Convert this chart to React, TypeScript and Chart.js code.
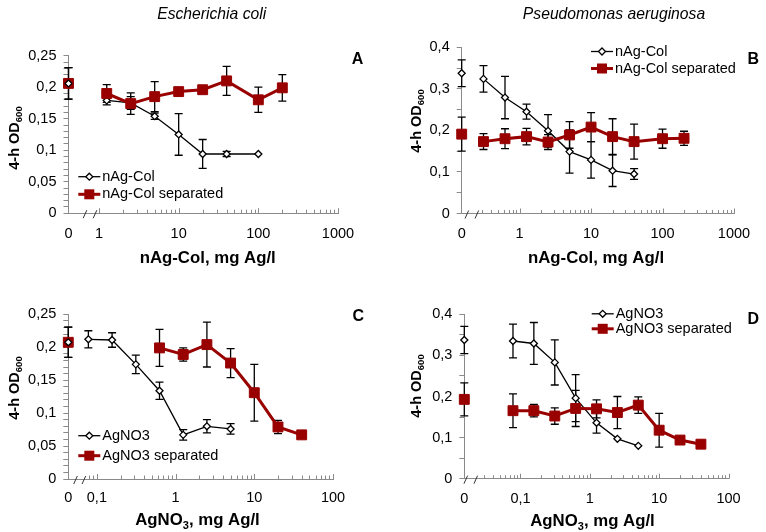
import React, { useEffect, useRef } from 'react';
import { Chart, registerables } from 'chart.js';

Chart.register(...registerables);

const FONT = "'Liberation Sans', Arial, Helvetica, sans-serif";
const RED = '#990000';
const AXIS_COLOR = '#8a8a8a';

// ---------- Panel A: Escherichia coli, nAg-Col ----------
const concA_col = [0, 1.25, 2.5, 5, 10, 20, 40, 100];
const odA_col = [0.206, 0.179, 0.175, 0.154, 0.125, 0.094, 0.094, 0.094];
const errA_col = [0.025, 0.007, 0.01, 0.005, 0.033, 0.023, 0.004, 0];
const concA_sep = [0, 1.25, 2.5, 5, 10, 20, 40, 100, 200];
const odA_sep = [0.206, 0.19, 0.174, 0.185, 0.193, 0.196, 0.21, 0.18, 0.199];
const errA_sep = [0.025, 0.014, 0.017, 0.024, 0.004, 0.004, 0.023, 0.02, 0.021];

// ---------- Panel B: Pseudomonas aeruginosa, nAg-Col ----------
const concB_col = [0, 0.3125, 0.625, 1.25, 2.5, 5, 10, 20, 40];
const odB_col = [0.3375, 0.324, 0.279, 0.245, 0.199, 0.149, 0.129, 0.103, 0.095];
const errB_col = [0.032, 0.032, 0.051, 0.018, 0.039, 0.052, 0.044, 0.038, 0.013];
const concB_sep = [0, 0.3125, 0.625, 1.25, 2.5, 5, 10, 20, 40, 100, 200];
const odB_sep = [0.191, 0.173, 0.18, 0.185, 0.172, 0.189, 0.208, 0.185, 0.173, 0.18, 0.181];
const errB_sep = [0.041, 0.019, 0.024, 0.02, 0.018, 0.032, 0.035, 0.043, 0.042, 0.023, 0.017];

// ---------- Panel C: Escherichia coli, AgNO3 ----------
const concC_no3 = [0, 0.078, 0.156, 0.3125, 0.625, 1.25, 2.5, 5];
const odC_no3 = [0.2075, 0.212, 0.211, 0.174, 0.134, 0.067, 0.08, 0.076];
const errC_no3 = [0.023, 0.013, 0.011, 0.014, 0.013, 0.008, 0.01, 0.008];
const concC_sep = [0, 0.625, 1.25, 2.5, 5, 10, 20, 40];
const odC_sep = [0.2075, 0.199, 0.189, 0.204, 0.176, 0.131, 0.079, 0.067];
const errC_sep = [0.023, 0.028, 0.01, 0.034, 0.022, 0.043, 0.01, 0];

// ---------- Panel D: Pseudomonas aeruginosa, AgNO3 ----------
const concD_no3 = [0, 0.078, 0.156, 0.3125, 0.625, 1.25, 2.5, 5];
const odD_no3 = [0.3375, 0.335, 0.329, 0.283, 0.196, 0.136, 0.097, 0.08];
const errD_no3 = [0.033, 0.041, 0.051, 0.055, 0.057, 0.025, 0, 0];
const concD_sep = [0, 0.078, 0.156, 0.3125, 0.625, 1.25, 2.5, 5, 10, 20, 40];
const odD_sep = [0.193, 0.1655, 0.1655, 0.1525, 0.171, 0.17, 0.161, 0.179, 0.118, 0.094, 0.084];
const errD_sep = [0.04, 0.041, 0.015, 0.02, 0.044, 0.022, 0.039, 0.02, 0.041, 0, 0];

// ---------- Tick labels ----------
const xTickConcNAg = [0, 1, 10, 100, 1000];
const xTickLabelsNAg = ['0', '1', '10', '100', '1000'];
const xTickConcAgNO3 = [0, 0.1, 1, 10, 100];
const xTickLabelsAgNO3 = ['0', '0,1', '1', '10', '100'];
const yTickLabelsLow = ['0', '0,05', '0,1', '0,15', '0,2', '0,25'];
const yTickLabelsHigh = ['0', '0,1', '0,2', '0,3', '0,4'];

const W = 766;
const H = 532;
const YW = 50;
const XH = 40;

function logMinors(start: number, end: number): number[] {
  const out: number[] = [];
  for (let e = Math.floor(Math.log10(start)); Math.pow(10, e) < end; e++) {
    const d = Math.pow(10, e);
    for (let m = 2; m <= 9; m++) {
      const v = +(d * m).toPrecision(4);
      if (v >= start - 1e-12 && v < end) out.push(v);
    }
  }
  return out;
}

interface Series { label: string; conc: number[]; od: number[]; err: number[] }
interface Panel {
  key: string;
  area: { l: number; r: number; t: number; b: number };
  zeroPos: number;
  xMax: number;
  xTickConc: number[];
  xTickLabels: string[];
  xPad: number;
  majors: number[];
  minors: number[];
  breaks: number[];
  yMax: number;
  yMinor: number;
  yMajor: number;
  yTickLabels: string[];
  open: Series;
  red: Series;
  letter: string;
  letterXY: [number, number];
  xTitle: [string, string, string];
  xTitleXY: [number, number];
  yTitleXY: [number, number];
  legendX: number;
  legendY: [number, number];
  colTitle?: { text: string; x: number; y: number };
}

const PANELS: Panel[] = [
  {
    key: 'A',
    area: { l: 68.5, r: 338, t: 55.7, b: 213.2 },
    zeroPos: -0.383,
    xMax: 3,
    xTickConc: xTickConcNAg,
    xTickLabels: xTickLabelsNAg,
    xPad: 4,
    majors: [1, 10, 100, 1000],
    minors: logMinors(2, 1000),
    breaks: [-0.176, -0.05],
    yMax: 0.25,
    yMinor: 0.01,
    yMajor: 0.05,
    yTickLabels: yTickLabelsLow,
    open: { label: 'nAg-Col', conc: concA_col, od: odA_col, err: errA_col },
    red: { label: 'nAg-Col separated', conc: concA_sep, od: odA_sep, err: errA_sep },
    letter: 'A',
    letterXY: [357.5, 58.3],
    xTitle: ['nAg-Col, mg Ag/l', '', ''],
    xTitleXY: [207.7, 262.7],
    yTitleXY: [13.3, 138],
    legendX: 78.3,
    legendY: [176.7, 194.3],
    colTitle: { text: 'Escherichia coli', x: 211.7, y: 19 },
  },
  {
    key: 'B',
    area: { l: 461.7, r: 734, t: 47.3, b: 213.5 },
    zeroPos: -0.81,
    xMax: 3,
    xTickConc: xTickConcNAg,
    xTickLabels: xTickLabelsNAg,
    xPad: 4,
    majors: [1, 10, 100, 1000],
    minors: logMinors(0.3, 1000),
    breaks: [-0.738, -0.598],
    yMax: 0.4,
    yMinor: 0.05,
    yMajor: 0.1,
    yTickLabels: yTickLabelsHigh,
    open: { label: 'nAg-Col', conc: concB_col, od: odB_col, err: errB_col },
    red: { label: 'nAg-Col separated', conc: concB_sep, od: odB_sep, err: errB_sep },
    letter: 'B',
    letterXY: [753.3, 58.3],
    xTitle: ['nAg-Col, mg Ag/l', '', ''],
    xTitleXY: [596, 262.7],
    yTitleXY: [415.7, 121],
    legendX: 591,
    legendY: [51.5, 68.5],
    colTitle: { text: 'Pseudomonas aeruginosa', x: 614, y: 19 },
  },
  {
    key: 'C',
    area: { l: 68.3, r: 333, t: 314.3, b: 479 },
    zeroPos: -1.363,
    xMax: 2,
    xTickConc: xTickConcAgNO3,
    xTickLabels: xTickLabelsAgNO3,
    xPad: 2.5,
    majors: [0.1, 1, 10, 100],
    minors: logMinors(0.08, 100),
    breaks: [-1.271, -1.165],
    yMax: 0.25,
    yMinor: 0.01,
    yMajor: 0.05,
    yTickLabels: yTickLabelsLow,
    open: { label: 'AgNO3', conc: concC_no3, od: odC_no3, err: errC_no3 },
    red: { label: 'AgNO3 separated', conc: concC_sep, od: odC_sep, err: errC_sep },
    letter: 'C',
    letterXY: [358.3, 315],
    xTitle: ['AgNO', '3', ', mg Ag/l'],
    xTitleXY: [197.5, 525.3],
    yTitleXY: [13.3, 388],
    legendX: 78.3,
    legendY: [435.7, 455.7],
  },
  {
    key: 'D',
    area: { l: 464.3, r: 728.5, t: 314.3, b: 478.7 },
    zeroPos: -1.81,
    xMax: 2,
    xTickConc: xTickConcAgNO3,
    xTickLabels: xTickLabelsAgNO3,
    xPad: 4,
    majors: [0.1, 1, 10, 100],
    minors: logMinors(0.03, 100),
    breaks: [-1.789, -1.645],
    yMax: 0.4,
    yMinor: 0.05,
    yMajor: 0.1,
    yTickLabels: yTickLabelsHigh,
    open: { label: 'AgNO3', conc: concD_no3, od: odD_no3, err: errD_no3 },
    red: { label: 'AgNO3 separated', conc: concD_sep, od: odD_sep, err: errD_sep },
    letter: 'D',
    letterXY: [753.3, 318.3],
    xTitle: ['AgNO', '3', ', mg Ag/l'],
    xTitleXY: [592.5, 526],
    yTitleXY: [415.7, 386],
    legendX: 591.7,
    legendY: [313.8, 328.8],
  },
];

function xPos(p: Panel, c: number): number {
  return c === 0 ? p.zeroPos : Math.log10(c);
}

function points(p: Panel, s: Series, zero: boolean) {
  const out: { x: number; y: number }[] = [];
  s.conc.forEach((c, i) => {
    if ((c === 0) === zero) out.push({ x: xPos(p, c), y: s.od[i] });
  });
  return out;
}

function drawDiamond(ctx: CanvasRenderingContext2D, x: number, y: number, r: number) {
  ctx.beginPath();
  ctx.moveTo(x - r, y);
  ctx.lineTo(x, y - r);
  ctx.lineTo(x + r, y);
  ctx.lineTo(x, y + r);
  ctx.closePath();
  ctx.fillStyle = '#fff';
  ctx.fill();
  ctx.strokeStyle = '#000';
  ctx.lineWidth = 1.3;
  ctx.stroke();
}

function makePlugin(p: Panel) {
  return {
    id: 'deco' + p.key,
    beforeDatasetsDraw(chart: any) {
      const ctx: CanvasRenderingContext2D = chart.ctx;
      const xs = chart.scales.x;
      const ys = chart.scales.y;
      ctx.save();
      ctx.strokeStyle = '#000';
      ctx.lineWidth = 1.3;
      [p.red, p.open].forEach((s) => {
        s.conc.forEach((c, i) => {
          const e = s.err[i];
          if (!e) return;
          const x = xs.getPixelForValue(xPos(p, c));
          const y1 = ys.getPixelForValue(s.od[i] + e);
          const y2 = ys.getPixelForValue(s.od[i] - e);
          ctx.beginPath();
          ctx.moveTo(x, y1);
          ctx.lineTo(x, y2);
          ctx.moveTo(x - 4, y1);
          ctx.lineTo(x + 4, y1);
          ctx.moveTo(x - 4, y2);
          ctx.lineTo(x + 4, y2);
          ctx.stroke();
        });
      });
      ctx.restore();
    },
    afterDraw(chart: any) {
      const ctx: CanvasRenderingContext2D = chart.ctx;
      const xs = chart.scales.x;
      const yb = chart.chartArea.bottom;
      ctx.save();
      // x-axis tick marks (pointing inward)
      ctx.strokeStyle = AXIS_COLOR;
      ctx.lineWidth = 1;
      const tick = (c: number, len: number) => {
        const px = Math.round(xs.getPixelForValue(Math.log10(c))) + 0.5;
        ctx.beginPath();
        ctx.moveTo(px, yb);
        ctx.lineTo(px, yb - len);
        ctx.stroke();
      };
      p.majors.forEach((c) => tick(c, 5));
      p.minors.forEach((c) => tick(c, 3.5));
      // axis break marks
      ctx.strokeStyle = '#333';
      ctx.lineWidth = 1;
      p.breaks.forEach((b) => {
        const px = xs.getPixelForValue(b);
        ctx.beginPath();
        ctx.moveTo(px - 1.8, yb + 5);
        ctx.lineTo(px + 1.8, yb - 3);
        ctx.stroke();
      });

      // legend
      const lx = p.legendX;
      const [ly1, ly2] = p.legendY;
      ctx.strokeStyle = '#000';
      ctx.lineWidth = 1.3;
      ctx.beginPath();
      ctx.moveTo(lx, ly1);
      ctx.lineTo(lx + 22, ly1);
      ctx.stroke();
      drawDiamond(ctx, lx + 11, ly1, 3.5);
      ctx.strokeStyle = RED;
      ctx.lineWidth = 3;
      ctx.beginPath();
      ctx.moveTo(lx, ly2);
      ctx.lineTo(lx + 22, ly2);
      ctx.stroke();
      ctx.fillStyle = RED;
      ctx.fillRect(lx + 11 - 5, ly2 - 5, 10, 10);
      ctx.fillStyle = '#000';
      ctx.font = `14.5px ${FONT}`;
      ctx.textAlign = 'left';
      ctx.textBaseline = 'middle';
      ctx.fillText(p.open.label, lx + 24, ly1);
      ctx.fillText(p.red.label, lx + 24, ly2);

      // panel letter
      ctx.font = `bold 16px ${FONT}`;
      ctx.textAlign = 'center';
      ctx.textBaseline = 'alphabetic';
      ctx.fillText(p.letter, p.letterXY[0], p.letterXY[1] + 5.7);

      // column title
      if (p.colTitle) {
        ctx.font = `italic 15.7px ${FONT}`;
        ctx.textAlign = 'center';
        ctx.fillText(p.colTitle.text, p.colTitle.x, p.colTitle.y);
      }

      // x-axis title with optional subscript
      const [t1, tSub, t2] = p.xTitle;
      const mainF = `bold 16.8px ${FONT}`;
      const subF = `bold 11px ${FONT}`;
      ctx.font = mainF;
      const w1 = ctx.measureText(t1).width;
      const w3 = ctx.measureText(t2).width;
      ctx.font = subF;
      const w2 = tSub ? ctx.measureText(tSub).width : 0;
      let sx = p.xTitleXY[0] - (w1 + w2 + w3) / 2;
      const by = p.xTitleXY[1];
      ctx.textAlign = 'left';
      ctx.font = mainF;
      ctx.fillText(t1, sx, by);
      sx += w1;
      if (tSub) {
        ctx.font = subF;
        ctx.fillText(tSub, sx, by + 4);
        sx += w2;
      }
      ctx.font = mainF;
      ctx.fillText(t2, sx, by);

      // y-axis title "4-h OD600"
      ctx.translate(p.yTitleXY[0], p.yTitleXY[1]);
      ctx.rotate(-Math.PI / 2);
      const yMainF = `bold 14.5px ${FONT}`;
      const ySubF = `bold 9.5px ${FONT}`;
      ctx.font = yMainF;
      const m1 = ctx.measureText('4-h OD').width;
      ctx.font = ySubF;
      const m2 = ctx.measureText('600').width;
      const start = -(m1 + m2) / 2;
      ctx.font = yMainF;
      ctx.fillText('4-h OD', start, 5.2);
      ctx.font = ySubF;
      ctx.fillText('600', start + m1, 8.5);
      ctx.restore();
    },
  };
}

function buildConfig(p: Panel): any {
  const yTicks: number[] = [];
  const n = Math.round(p.yMax / p.yMinor);
  for (let i = 0; i <= n; i++) yTicks.push(+(i * p.yMinor).toFixed(4));
  const xTicks = p.xTickConc.map((c) => xPos(p, c));
  const common = { clip: false as const, fill: false };
  return {
    type: 'line',
    data: {
      datasets: [
        {
          ...common,
          label: p.open.label + ' control',
          data: points(p, p.open, true),
          showLine: false,
          pointStyle: 'rectRot',
          pointRadius: 3.5,
          pointBackgroundColor: '#fff',
          pointBorderColor: '#000',
          pointBorderWidth: 1.3,
          order: 0,
        },
        {
          ...common,
          label: p.red.label + ' control',
          data: points(p, p.red, true),
          showLine: false,
          pointStyle: 'rect',
          pointRadius: 7,
          pointBackgroundColor: RED,
          pointBorderColor: RED,
          pointBorderWidth: 1,
          order: 1,
        },
        {
          ...common,
          label: p.red.label,
          data: points(p, p.red, false),
          borderColor: RED,
          borderWidth: 3,
          tension: 0,
          pointStyle: 'rect',
          pointRadius: 7,
          pointBackgroundColor: RED,
          pointBorderColor: RED,
          pointBorderWidth: 1,
          order: 2,
        },
        {
          ...common,
          label: p.open.label,
          data: points(p, p.open, false),
          borderColor: '#000',
          borderWidth: 1.3,
          tension: 0,
          pointStyle: 'rectRot',
          pointRadius: 3.5,
          pointBackgroundColor: '#fff',
          pointBorderColor: '#000',
          pointBorderWidth: 1.3,
          order: 3,
        },
      ],
    },
    options: {
      animation: false,
      responsive: false,
      devicePixelRatio: 1,
      events: [],
      layout: {
        padding: {
          left: p.area.l - YW,
          right: W - p.area.r,
          top: p.area.t,
          bottom: H - p.area.b - XH,
        },
      },
      plugins: { legend: { display: false }, tooltip: { enabled: false }, title: { display: false } },
      scales: {
        x: {
          type: 'linear',
          min: p.zeroPos,
          max: p.xMax,
          afterFit: (s: any) => {
            s.height = XH;
          },
          afterBuildTicks: (s: any) => {
            s.ticks = xTicks.map((v) => ({ value: v }));
          },
          ticks: {
            autoSkip: false,
            maxRotation: 0,
            minRotation: 0,
            padding: p.xPad,
            color: '#000',
            font: { family: FONT, size: 14.5 },
            callback: (_v: number, i: number) => p.xTickLabels[i],
          },
          grid: { display: false },
          border: { display: true, color: AXIS_COLOR, width: 1 },
        },
        y: {
          type: 'linear',
          min: 0,
          max: p.yMax,
          afterFit: (s: any) => {
            s.width = YW;
          },
          afterBuildTicks: (s: any) => {
            s.ticks = yTicks.map((v) => ({ value: v }));
          },
          ticks: {
            autoSkip: false,
            padding: 7,
            color: '#000',
            font: { family: FONT, size: 14.5 },
            callback: (v: number) => {
              const k = Math.round(v / p.yMajor);
              return Math.abs(v - k * p.yMajor) < 1e-6 ? p.yTickLabels[k] : '';
            },
          },
          grid: {
            display: true,
            drawOnChartArea: false,
            drawTicks: true,
            tickLength: 5,
            color: AXIS_COLOR,
            lineWidth: 1,
          },
          border: { display: true, color: AXIS_COLOR, width: 1 },
        },
      },
    },
    plugins: [makePlugin(p)],
  };
}

export default function App() {
  const canvases = useRef<(HTMLCanvasElement | null)[]>([]);
  useEffect(() => {
    const charts = PANELS.map((p, i) => new Chart(canvases.current[i] as HTMLCanvasElement, buildConfig(p)));
    return () => charts.forEach((c) => c.destroy());
  }, []);
  return (
    <div style={{ position: 'absolute', left: 0, top: 0, width: W, height: H, background: '#fff' }}>
      {PANELS.map((p, i) => (
        <canvas
          key={p.key}
          ref={(el) => {
            canvases.current[i] = el;
          }}
          width={W}
          height={H}
          style={{ position: 'absolute', left: 0, top: 0, width: W, height: H }}
        />
      ))}
    </div>
  );
}
